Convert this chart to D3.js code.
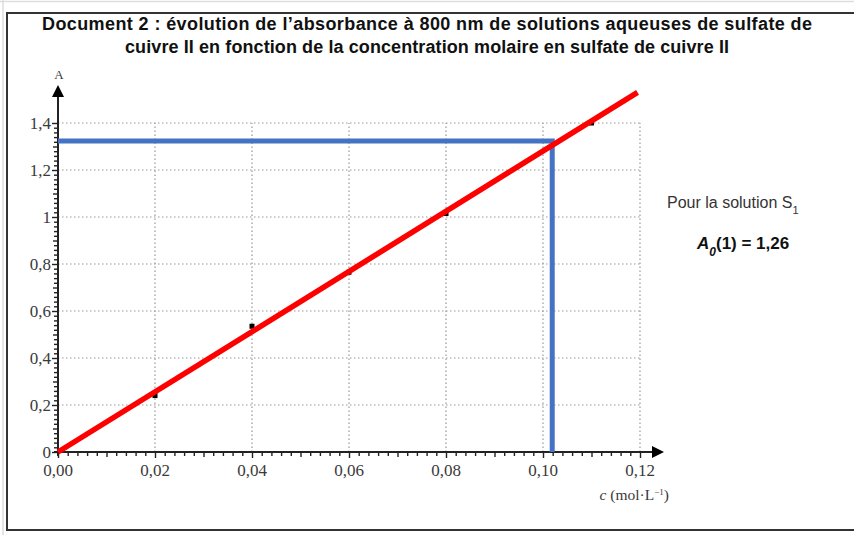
<!DOCTYPE html>
<html>
<head>
<meta charset="utf-8">
<script src="https://cdn.jsdelivr.net/npm/d3@7"></script>
<style>
  body { margin: 0; background: #fff; }
  svg { display: block; }
</style>
</head>
<body>
<svg id="chart" width="854" height="535"></svg>
<script>
// data
const pointC = [0.02, 0.04, 0.06, 0.08, 0.11];
const pointA = [0.24, 0.535, 0.765, 1.015, 1.40];
const fitC = [0, 0.1195];
const fitA = [0, 1.53];
const readC = 0.1019;
const readA = 1.323;
const xTicks = [0, 0.02, 0.04, 0.06, 0.08, 0.10, 0.12];
const xTickLabels = ["0,00", "0,02", "0,04", "0,06", "0,08", "0,10", "0,12"];
const yTicks = [0, 0.2, 0.4, 0.6, 0.8, 1, 1.2, 1.4];
const yTickLabels = ["0", "0,2", "0,4", "0,6", "0,8", "1", "1,2", "1,4"];
const titleLines = [
  "Document 2 : évolution de l’absorbance à 800 nm de solutions aqueuses de sulfate de",
  "cuivre II en fonction de la concentration molaire en sulfate de cuivre II"
];

const svg = d3.select("#chart");
const x = d3.scaleLinear().domain([0, 0.12]).range([58, 640]);
const y = d3.scaleLinear().domain([0, 1.4]).range([452, 123]);
const serif = "'Liberation Serif', 'DejaVu Serif', serif";
const sans = "'Liberation Sans', Arial, sans-serif";
const axisCol = "#222";
const textCol = "#3a3a3a";

// outer document frame
svg.append("line").attr("x1", 0).attr("x2", 854).attr("y1", 1.5).attr("y2", 1.5)
  .attr("stroke", "#ddd").attr("stroke-width", 1.5);
svg.append("line").attr("x1", 3).attr("x2", 3).attr("y1", 0).attr("y2", 535)
  .attr("stroke", "#ddd").attr("stroke-width", 1.5);
svg.append("path")
  .attr("d", "M854,13 H7 V530 H854")
  .attr("fill", "none").attr("stroke", "#333").attr("stroke-width", 2);

// title
svg.append("g").selectAll("text").data(titleLines).enter().append("text")
  .attr("x", 427).attr("y", (d, i) => 30 + i * 23)
  .attr("text-anchor", "middle")
  .attr("font-family", sans).attr("font-weight", "bold").attr("font-size", 18)
  .attr("textLength", (d, i) => i === 0 ? 770 : 604)
  .attr("fill", "#111")
  .text(d => d);

// dotted grid
const grid = svg.append("g").attr("stroke", "#999").attr("stroke-width", 1.2)
  .attr("stroke-dasharray", "1.5,2.5");
grid.selectAll("line.v").data(xTicks.slice(1)).enter().append("line")
  .attr("x1", d => x(d)).attr("x2", d => x(d))
  .attr("y1", y(0)).attr("y2", y(1.4));
grid.selectAll("line.h").data(yTicks.slice(1)).enter().append("line")
  .attr("x1", x(0)).attr("x2", x(0.12))
  .attr("y1", d => y(d)).attr("y2", d => y(d));

// x axis
const xAxis = svg.append("g").attr("transform", `translate(0,${y(0)})`)
  .call(d3.axisBottom(x).tickValues(d3.range(0, 0.1201, 0.002)).tickSize(4).tickFormat(""));
xAxis.select(".domain").remove();
xAxis.selectAll(".tick line").attr("stroke", axisCol).attr("stroke-width", 1.4)
  .attr("y2", (d, i) => i % 10 === 0 ? 6 : (i % 5 === 0 ? 5 : 4));
svg.append("line").attr("x1", x(0) - 4).attr("x2", 655).attr("y1", y(0)).attr("y2", y(0))
  .attr("stroke", axisCol).attr("stroke-width", 2);
svg.append("path").attr("d", `M664,${y(0)} L652,${y(0) - 6} L652,${y(0) + 6} Z`).attr("fill", "#000");
svg.append("g").selectAll("text").data(xTicks).enter().append("text")
  .attr("x", d => x(d)).attr("y", y(0) + 24)
  .attr("text-anchor", "middle")
  .attr("font-family", serif).attr("font-size", 17).attr("fill", textCol)
  .text((d, i) => xTickLabels[i]);

// y axis
const yAxis = svg.append("g").attr("transform", `translate(${x(0)},0)`)
  .call(d3.axisLeft(y).tickValues(d3.range(0, 1.4001, 0.02)).tickSize(4).tickFormat(""));
yAxis.select(".domain").remove();
yAxis.selectAll(".tick line").attr("stroke", axisCol).attr("stroke-width", 1.4)
  .attr("x2", (d, i) => i % 10 === 0 ? -6 : (i % 5 === 0 ? -5 : -4));
svg.append("line").attr("x1", x(0)).attr("x2", x(0)).attr("y1", y(0) + 4).attr("y2", 95)
  .attr("stroke", axisCol).attr("stroke-width", 2);
svg.append("path").attr("d", `M${x(0)},85 L${x(0) - 6},97 L${x(0) + 6},97 Z`).attr("fill", "#000");
svg.append("g").selectAll("text").data(yTicks).enter().append("text")
  .attr("x", x(0) - 7).attr("y", d => y(d) + 6)
  .attr("text-anchor", "end")
  .attr("font-family", serif).attr("font-size", 17).attr("fill", textCol)
  .text((d, i) => yTickLabels[i]);

// axis titles
svg.append("text").attr("x", x(0) + 1).attr("y", 79).attr("text-anchor", "middle")
  .attr("font-family", serif).attr("font-size", 13).attr("fill", textCol).text("A");
const cLabel = svg.append("text").attr("x", 669).attr("y", 500).attr("text-anchor", "end")
  .attr("font-family", serif).attr("font-size", 15.5).attr("fill", textCol);
cLabel.append("tspan").attr("font-style", "italic").text("c");
cLabel.append("tspan").text(" (mol·L");
cLabel.append("tspan").attr("baseline-shift", "super").attr("font-size", 9).text("−1");
cLabel.append("tspan").text(")");

// data points
svg.append("g").selectAll("rect").data(pointC).enter().append("rect")
  .attr("x", d => x(d) - 2.5).attr("y", (d, i) => y(pointA[i]) - 2.5)
  .attr("width", 5).attr("height", 5).attr("fill", "#000");

// reading lines (blue)
svg.append("path")
  .attr("d", `M${x(0)},${y(readA)} H${x(readC)} V${y(0)}`)
  .attr("fill", "none").attr("stroke", "#4472C4").attr("stroke-width", 5);

// fitted line (red)
svg.append("path")
  .datum(fitC.map((c, i) => [c, fitA[i]]))
  .attr("d", d3.line().x(d => x(d[0])).y(d => y(d[1])))
  .attr("fill", "none").attr("stroke", "#ff0000").attr("stroke-width", 5.5);

// side note
svg.append("text").attr("x", 667).attr("y", 208)
  .attr("font-family", sans).attr("font-size", 16).attr("fill", "#333")
  .text("Pour la solution S")
  .append("tspan").attr("baseline-shift", "sub").attr("font-size", 11).text("1");
const note = svg.append("text").attr("x", 697).attr("y", 249)
  .attr("font-family", sans).attr("font-size", 17).attr("font-weight", "bold").attr("fill", "#111");
note.append("tspan").attr("font-style", "italic").text("A");
note.append("tspan").attr("font-style", "italic").attr("baseline-shift", "sub").attr("font-size", 12).text("0");
note.append("tspan").text("(1) = 1,26");
</script>
</body>
</html>
